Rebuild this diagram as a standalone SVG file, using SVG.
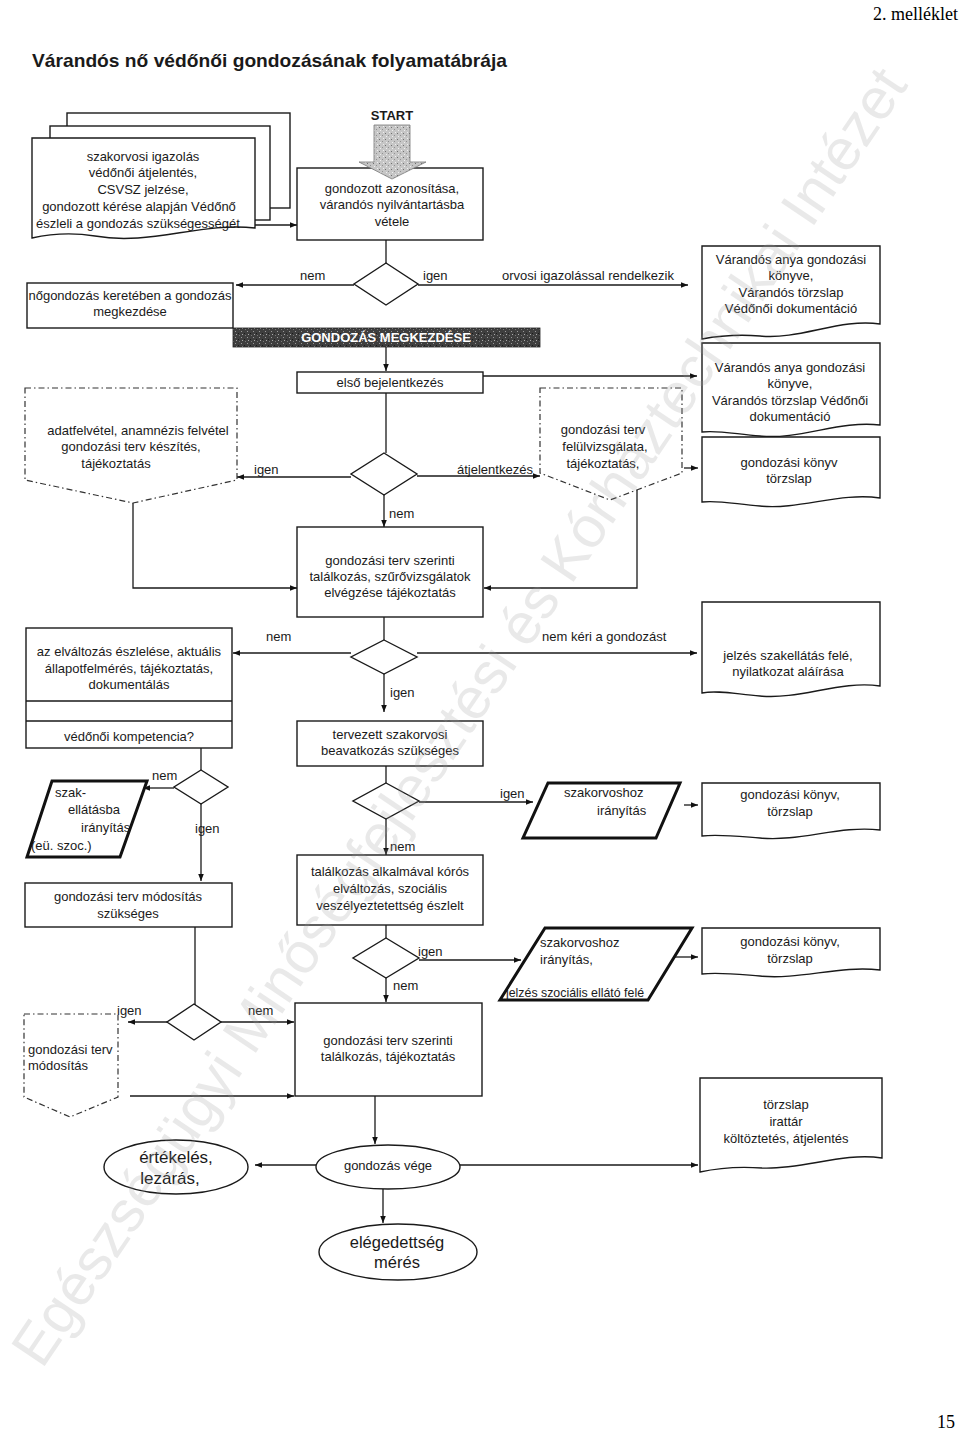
<svg xmlns="http://www.w3.org/2000/svg" width="960" height="1432" viewBox="0 0 960 1432">
<defs>
<style>
.t{font-family:"Liberation Sans",Arial,sans-serif;font-size:13px;fill:#1a1a1a}
.c{text-anchor:middle}
.big{font-size:16.5px}
.box{fill:#fff;stroke:#1a1a1a;stroke-width:1.4}
.thick{fill:#fff;stroke:#111;stroke-width:3}
.dash{fill:#fff;stroke:#333;stroke-width:1.2;stroke-dasharray:6 3 1.5 3}
.ln{fill:none;stroke:#1a1a1a;stroke-width:1.3}
.ar{marker-end:url(#ah)}
</style>
<marker id="ah" viewBox="0 0 10 10" refX="10" refY="5" markerWidth="8" markerHeight="7" markerUnits="userSpaceOnUse" orient="auto"><path d="M0,1 L10,5 L0,9 z" fill="#111"/></marker>
<pattern id="speck" width="6" height="6" patternUnits="userSpaceOnUse"><rect width="6" height="6" fill="#c6c6c6"/><rect x="1" y="1" width="1" height="1" fill="#707070"/><rect x="4" y="3" width="1" height="1" fill="#909090"/><rect x="2" y="4" width="1" height="1" fill="#eee"/><rect x="5" y="0" width="1" height="1" fill="#eee"/></pattern>
<pattern id="dspeck" width="6" height="6" patternUnits="userSpaceOnUse"><rect width="6" height="6" fill="#3e3e3e"/><rect x="1" y="1" width="1" height="1" fill="#999"/><rect x="4" y="3" width="1" height="1" fill="#1a1a1a"/><rect x="2" y="4" width="1" height="1" fill="#aaa"/><rect x="5" y="5" width="1" height="1" fill="#777"/></pattern>
</defs>
<rect width="960" height="1432" fill="#fff"/>

<text class="t" x="958" y="20" style="font-family:'Liberation Serif',serif;font-size:18px;fill:#000" text-anchor="end">2. melléklet</text>
<text class="t" x="32" y="67" style="font-size:19px;font-weight:bold;fill:#1a1a1a" textLength="475" lengthAdjust="spacingAndGlyphs">Várandós nő védőnői gondozásának folyamatábrája</text>

<g id="connectors">
<path class="ln ar" d="M235,225 H297"/>
<path class="ln" d="M386,240 V263"/>
<path class="ln ar" d="M354,285 H236"/>
<path class="ln ar" d="M418,285 H688"/>
<path class="ln ar" d="M386,347 V371"/>
<path class="ln ar" d="M483,376 H697"/>
<path class="ln" d="M386,393 V453"/>
<path class="ln ar" d="M351,477 H237"/>
<path class="ln ar" d="M417,476 H540"/>
<path class="ln ar" d="M684,468 H698"/>
<path class="ln ar" d="M384,495 V527"/>
<path class="ln ar" d="M133,503 V588 H297"/>
<path class="ln ar" d="M637,490 V588 H484"/>
<path class="ln" d="M384,617 V640"/>
<path class="ln ar" d="M351,653 H233"/>
<path class="ln ar" d="M417,653 H697"/>
<path class="ln ar" d="M384,674 V712"/>
<path class="ln ar" d="M117,701 V720"/>
<path class="ln" d="M201,748 V770"/>
<path class="ln ar" d="M174,788 H143"/>
<path class="ln ar" d="M201,804 V881"/>
<path class="ln" d="M386,766 V783"/>
<path class="ln ar" d="M419,802 H533"/>
<path class="ln ar" d="M684,805 H698"/>
<path class="ln ar" d="M386,819 V855"/>
<path class="ln" d="M386,925 V938"/>
<path class="ln ar" d="M419,960 H521"/>
<path class="ln ar" d="M674,957 H698"/>
<path class="ln ar" d="M386,978 V1002"/>
<path class="ln" d="M195,927 V1005"/>
<path class="ln ar" d="M167,1022 H128"/>
<path class="ln ar" d="M221,1022 H294"/>
<path class="ln ar" d="M130,1096 H294"/>
<path class="ln ar" d="M375,1096 V1144"/>
<path class="ln ar" d="M316,1165 H255"/>
<path class="ln ar" d="M460,1165 H698"/>
<path class="ln ar" d="M383,1189 V1223"/>
</g>

<g id="labels">
<text class="t" x="300" y="280">nem</text>
<text class="t" x="423" y="280">igen</text>
<text class="t" x="502" y="280">orvosi  igazolással rendelkezik</text>
<text class="t" x="254" y="474">igen</text>
<text class="t" x="457" y="474">átjelentkezés</text>
<text class="t" x="389" y="518">nem</text>
<text class="t" x="266" y="641">nem</text>
<text class="t" x="542" y="641">nem kéri a gondozást</text>
<text class="t" x="390" y="697">igen</text>
<text class="t" x="152" y="780">nem</text>
<text class="t" x="195" y="833">igen</text>
<text class="t" x="500" y="798">igen</text>
<text class="t" x="390" y="851">nem</text>
<text class="t" x="418" y="956">igen</text>
<text class="t" x="393" y="990">nem</text>
<text class="t" x="117" y="1015">igen</text>
<text class="t" x="248" y="1015">nem</text>
</g>

<g id="n-stack">
<rect class="box" x="67" y="113" width="223" height="95"/>
<rect class="box" x="50" y="126" width="220" height="94"/>
<path class="box" d="M32,138 H255 V228 C200,222 150,246 95,236 C70,232 50,234 32,238 Z"/>
<text class="t c" x="143" y="161">szakorvosi igazolás</text>
<text class="t c" x="143" y="177">védőnői átjelentés,</text>
<text class="t c" x="143" y="194">CSVSZ jelzése,</text>
<text class="t c" x="139" y="211">gondozott kérése alapján Védőnő</text>
<text class="t c" x="138" y="228">észleli a gondozás szükségességét</text>
</g>

<g id="n-start">
<rect class="box" x="297" y="168" width="186" height="72"/>
<text class="t c" x="392" y="120" style="font-weight:bold;font-size:13px">START</text>
<path d="M374,125 H410 V162 H426 L392,179 L359,162 H374 Z" fill="url(#speck)" stroke="#777" stroke-width="0.8"/>
<text class="t c" x="392" y="193">gondozott azonosítása,</text>
<text class="t c" x="392" y="209">várandós nyilvántartásba</text>
<text class="t c" x="392" y="226">vétele</text>
</g>

<g id="n-d1"><path class="box" d="M386,263 L418,284 L386,305 L354,284 Z"/></g>

<g id="n-nogondozas">
<rect class="box" x="27" y="283" width="206" height="45"/>
<text class="t c" x="130" y="300">nőgondozás keretében a gondozás</text>
<text class="t c" x="130" y="316">megkezdése</text>
</g>

<g id="n-doc1">
<path class="box" d="M702,246 H880 V324 C840,318 800,340 760,336 C735,334 718,336 702,339 Z"/>
<text class="t c" x="791" y="264">Várandós anya gondozási</text>
<text class="t c" x="791" y="280">könyve,</text>
<text class="t c" x="791" y="297">Várandós  törzslap</text>
<text class="t c" x="791" y="313">Védőnői dokumentáció</text>
</g>

<g id="n-bar">
<rect x="233" y="328" width="307" height="19" fill="url(#dspeck)" stroke="#222" stroke-width="0.8"/>
<text class="t c" x="386" y="342" style="font-weight:bold;font-size:13px;fill:#fff">GONDOZÁS MEGKEZDÉSE</text>
</g>

<g id="n-elso">
<rect class="box" x="297" y="372" width="186" height="21"/>
<text class="t c" x="390" y="387">első bejelentkezés</text>
</g>

<g id="n-doc2">
<path class="box" d="M702,343 H880 V425 C840,420 800,440 760,436 C735,434 718,430 702,432 Z"/>
<text class="t c" x="790" y="372">Várandós anya gondozási</text>
<text class="t c" x="790" y="388">könyve,</text>
<text class="t c" x="790" y="405">Várandós  törzslap  Védőnői</text>
<text class="t c" x="790" y="421">dokumentáció</text>
</g>

<g id="n-doc3">
<path class="box" d="M702,437 H880 V498 C840,492 800,510 760,506 C735,504 718,500 702,502 Z"/>
<text class="t c" x="789" y="467">gondozási könyv</text>
<text class="t c" x="789" y="483">törzslap</text>
</g>

<g id="n-adatfelvetel">
<path class="dash" d="M25,388 H237 V480 L133,503 L25,480 Z"/>
<text class="t c" x="138" y="435">adatfelvétel, anamnézis felvétel</text>
<text class="t c" x="131" y="451">gondozási terv készítés,</text>
<text class="t c" x="116" y="468">tájékoztatás</text>
</g>

<g id="n-d2"><path class="box" d="M384,453 L417,474 L384,495 L351,474 Z"/></g>

<g id="n-felulvizsgalat">
<path class="dash" d="M540,388 H682 V473 L610,500 L540,473 Z"/>
<text class="t c" x="603" y="434">gondozási terv</text>
<text class="t c" x="605" y="451">felülvizsgálata,</text>
<text class="t c" x="603" y="468">tájékoztatás,</text>
</g>

<g id="n-talalkozas1">
<rect class="box" x="297" y="527" width="186" height="90"/>
<text class="t c" x="390" y="565">gondozási terv szerinti</text>
<text class="t c" x="390" y="581">találkozás,  szűrővizsgálatok</text>
<text class="t c" x="390" y="597">elvégzése      tájékoztatás</text>
</g>

<g id="n-d3"><path class="box" d="M384,640 L417,657 L384,674 L351,657 Z"/></g>

<g id="n-elvaltozas">
<rect class="box" x="26" y="628" width="206" height="120"/>
<path class="ln" d="M26,701 H232 M26,721 H232"/>
<text class="t c" x="129" y="656">az elváltozás észlelése, aktuális</text>
<text class="t c" x="129" y="673">állapotfelmérés, tájékoztatás,</text>
<text class="t c" x="129" y="689">dokumentálás</text>
<text class="t c" x="129" y="741">védőnői kompetencia?</text>
</g>

<g id="n-doc4">
<path class="box" d="M702,602 H880 V686 C840,680 800,700 760,696 C735,694 718,690 702,693 Z"/>
<text class="t c" x="788" y="660">jelzés szakellátás felé,</text>
<text class="t c" x="788" y="676">nyilatkozat aláírása</text>
</g>

<g id="n-tervezett">
<rect class="box" x="297" y="721" width="186" height="45"/>
<text class="t c" x="390" y="739">tervezett szakorvosi</text>
<text class="t c" x="390" y="755">beavatkozás szükséges</text>
</g>

<g id="n-d4"><path class="box" d="M201,770 L228,787 L201,804 L174,787 Z"/></g>

<g id="n-szakellatas">
<path class="thick" d="M52,781 H147 L120,857 H27 Z"/>
<text class="t" x="55" y="797">szak-</text>
<text class="t" x="68" y="814">ellátásba</text>
<text class="t" x="81" y="832">irányítás</text>
<text class="t" x="31" y="850">(eü. szoc.)</text>
</g>

<g id="n-modositas-szukseges">
<rect class="box" x="25" y="883" width="207" height="44"/>
<text class="t c" x="128" y="901">gondozási terv módosítás</text>
<text class="t c" x="128" y="918">szükséges</text>
</g>

<g id="n-d5"><path class="box" d="M386,783 L419,801 L386,819 L353,801 Z"/></g>

<g id="n-szakorvoshoz1">
<path class="thick" d="M548,783 H680 L656,838 H523 Z"/>
<text class="t" x="564" y="797">szakorvoshoz</text>
<text class="t" x="597" y="815">irányítás</text>
</g>

<g id="n-doc5">
<path class="box" d="M702,783 H880 V830 C840,825 800,842 760,838 C735,836 718,834 702,836 Z"/>
<text class="t c" x="790" y="799">gondozási könyv,</text>
<text class="t c" x="790" y="816">törzslap</text>
</g>

<g id="n-korosvaltozas">
<rect class="box" x="297" y="855" width="186" height="70"/>
<text class="t c" x="390" y="876">találkozás alkalmával kórós</text>
<text class="t c" x="390" y="893">elváltozás, szociális</text>
<text class="t c" x="390" y="910">veszélyeztetettség észlelt</text>
</g>

<g id="n-d6"><path class="box" d="M386,938 L419,958 L386,978 L353,958 Z"/></g>

<g id="n-szakorvoshoz2">
<path class="thick" d="M545,928 H692 L648,1000 H500 Z"/>
<text class="t" x="540" y="947">szakorvoshoz</text>
<text class="t" x="540" y="964">irányítás,</text>
<text class="t" x="506" y="997" textLength="138" lengthAdjust="spacingAndGlyphs">jelzés  szociális ellátó felé</text>
</g>

<g id="n-doc6">
<path class="box" d="M702,928 H880 V970 C840,965 800,980 760,976 C735,974 718,972 702,974 Z"/>
<text class="t c" x="790" y="946">gondozási könyv,</text>
<text class="t c" x="790" y="963">törzslap</text>
</g>

<g id="n-d7"><path class="box" d="M194,1004 L221,1022 L194,1040 L167,1022 Z"/></g>

<g id="n-modositas">
<path class="dash" d="M24,1014 H118 V1097 L70,1117 L24,1097 Z"/>
<text class="t" x="28" y="1054">gondozási terv</text>
<text class="t" x="28" y="1070">módosítás</text>
</g>

<g id="n-talalkozas2">
<rect class="box" x="295" y="1003" width="187" height="93"/>
<text class="t c" x="388" y="1045">gondozási terv szerinti</text>
<text class="t c" x="388" y="1061">találkozás, tájékoztatás</text>
</g>

<g id="n-doc7">
<path class="box" d="M700,1078 H882 V1158 C842,1152 802,1170 762,1168 C735,1166 718,1168 700,1172 Z"/>
<text class="t c" x="786" y="1109">törzslap</text>
<text class="t c" x="786" y="1126">irattár</text>
<text class="t c" x="786" y="1143">költöztetés, átjelentés</text>
</g>

<g id="n-vege">
<ellipse class="box" cx="388" cy="1167" rx="72" ry="22"/>
<text class="t c" x="388" y="1170">gondozás vége</text>
</g>

<g id="n-ertekeles">
<ellipse class="box" cx="176" cy="1167" rx="72" ry="27"/>
<text class="t c big" x="176" y="1163" style="font-size:17px">értékelés,</text>
<text class="t c big" x="170" y="1184" style="font-size:17px">lezárás,</text>
</g>

<g id="n-elegedettseg">
<ellipse class="box" cx="398" cy="1252" rx="79" ry="28"/>
<text class="t c big" x="397" y="1248">elégedettség</text>
<text class="t c big" x="397" y="1268">mérés</text>
</g>

<text class="t" x="955" y="1428" style="font-family:'Liberation Serif',serif;font-size:18px;fill:#000" text-anchor="end">15</text>

<text transform="translate(42,1370) rotate(-56)" x="0" y="0" style="font-family:'Liberation Sans',Arial,sans-serif;font-size:58px;fill:#9a9a9a;fill-opacity:0.22" textLength="1550" lengthAdjust="spacingAndGlyphs">Egészségügyi Minőségfejlesztési és Kórháztechnikai Intézet</text>
</svg>
